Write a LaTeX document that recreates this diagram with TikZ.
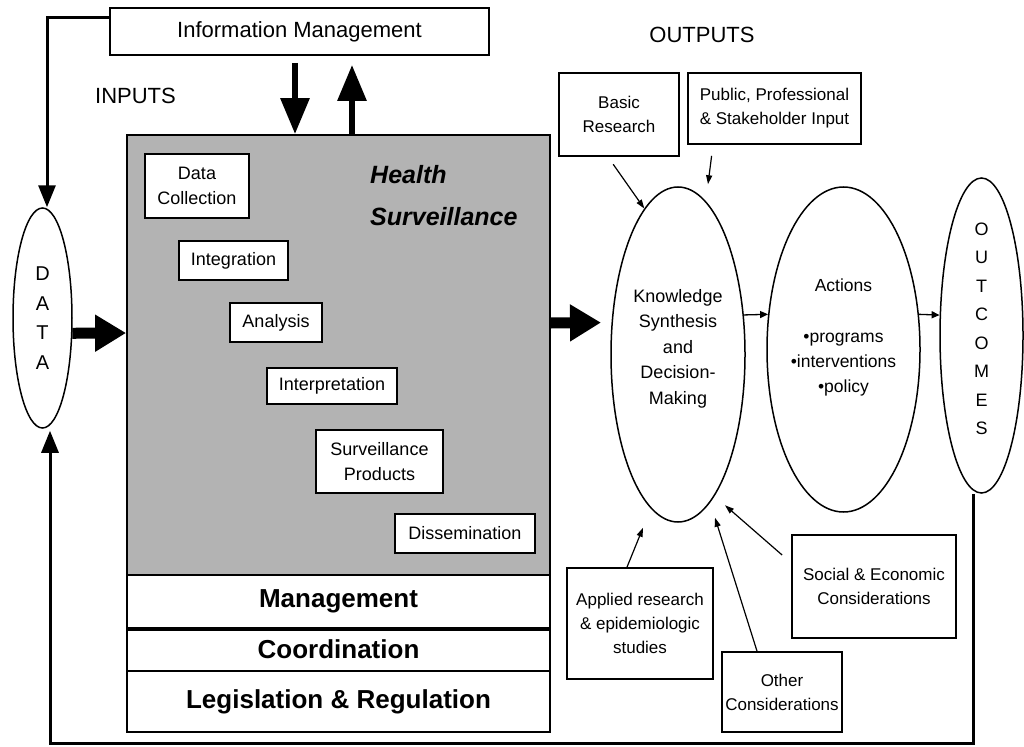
\documentclass[tikz,border=0pt]{standalone}
\usepackage{fontspec}
\setmainfont{Liberation Sans}
\usetikzlibrary{arrows.meta,shapes.geometric}
\definecolor{panelgray}{RGB}{179,179,179}
\begin{document}
\begin{tikzpicture}[x=1pt,y=-1pt,
  every node/.style={inner sep=0pt, align=center},
  pbox/.style={draw, fill=white, line width=1.8pt},
  band/.style={draw, fill=white, line width=1.8pt, minimum width=423pt,
    font=\fontsize{26}{30}\selectfont\bfseries},
  ell/.style={draw, ellipse, line width=1.5pt},
  t17/.style={font=\fontsize{17}{24}\selectfont},
  t18/.style={font=\fontsize{18}{25.5}\selectfont},
  bigarrow/.style={line width=6pt, -{Triangle[width=28pt,length=36pt]}},
  sidearrow/.style={line width=11pt, -{Triangle[width=35pt,length=31pt]}},
  smallarrow/.style={line width=1.3pt, -{Triangle[width=7pt,length=8pt]}},
  thinarrow/.style={line width=1.2pt, -{Triangle[width=6pt,length=9pt]}},
  feedback/.style={line width=3pt, -{Triangle[width=17pt,length=22pt]}}
]
\useasboundingbox (0,0) rectangle (1024,746);

% headings
\node[font=\fontsize{22}{26}\selectfont] (inputs) at (135.5,96) {INPUTS};
\node[font=\fontsize{22}{26}\selectfont] (outputs) at (702,35) {OUTPUTS};

% information management
\node[pbox, minimum width=379pt, minimum height=47pt,
  font=\fontsize{22}{26}\selectfont] (im) at (299.5,31.5) {Information Management};

% health surveillance panel and its supporting bands
\node[draw, fill=panelgray, line width=1.8pt, minimum width=423pt,
  minimum height=440pt] (hs) at (338.5,355) {};
\node[band, minimum height=53pt] (mg) at (338.5,601.5) {Management};
\node[band, minimum height=43pt] (co) at (338.5,649.5) {Coordination};
\node[band, minimum height=61pt] (lr) at (338.5,701.5) {Legislation \& Regulation};
\draw[line width=4.5pt] (mg.south west) -- (mg.south east);

\node[anchor=north west, align=left,
  font=\fontsize{25}{42}\selectfont\bfseries\itshape] (hst) at (370,165)
  {Health\\Surveillance};

% surveillance steps
\node[pbox, t18, minimum width=104pt, minimum height=64pt] (dc) at (197,186) {Data\\Collection};
\node[pbox, t18, minimum width=109pt, minimum height=39pt] (ig) at (233.5,260.5) {Integration};
\node[pbox, t18, minimum width=92pt, minimum height=39pt] (an) at (276,322.5) {Analysis};
\node[pbox, t18, minimum width=130pt, minimum height=36pt] (ip) at (332,386) {Interpretation};
\node[pbox, t18, minimum width=127pt, minimum height=63pt] (sp) at (379.5,461.5) {Surveillance\\Products};
\node[pbox, t18, minimum width=140pt, minimum height=39pt] (ds) at (465,533.5) {Dissemination};

% data
\node[ell, minimum width=59pt, minimum height=220pt,
  font=\fontsize{20}{29.5}\selectfont] (data) at (42.5,318) {D\\A\\T\\A};

% knowledge, actions, outcomes
\node[ell, minimum width=134pt, minimum height=335pt,
  label={[t18, yshift=6pt]center:{Knowledge\\Synthesis\\and\\Decision-\\Making}}]
  (kn) at (678,354.5) {};
\node[ell, minimum width=153pt, minimum height=325pt,
  label={[font=\fontsize{17.5}{25}\selectfont, yshift=12pt]center:{Actions\\[26pt]•programs\\•interventions\\•policy}}]
  (ac) at (843.5,349.5) {};
\node[ell, minimum width=83pt, minimum height=315pt,
  label={[font=\fontsize{18}{28.5}\selectfont, yshift=6.5pt]center:{O\\U\\T\\C\\O\\M\\E\\S}}]
  (oc) at (981.5,335.5) {};

% contributing inputs
\node[pbox, t17, minimum width=120pt, minimum height=83pt] (br) at (619,114.5) {Basic\\Research};
\node[pbox, t17, minimum width=173pt, minimum height=71pt] (pu) at (774.5,108.5) {Public, Professional\\\& Stakeholder Input};
\node[pbox, t17, minimum width=146pt, minimum height=111pt] (ap) at (640,623.5) {Applied research\\\& epidemiologic\\studies};
\node[pbox, t17, minimum width=120pt, minimum height=80pt] (ot) at (782,692) {Other\\Considerations};
\node[pbox, t17, minimum width=164pt, minimum height=103pt] (se) at (874,586.5) {Social \& Economic\\Considerations};

% information flow to and from information management
\draw[bigarrow, shorten <=7pt] ([xshift=-4.5pt]im.south) -- ([xshift=-43.5pt]hs.north);
\draw[bigarrow, shorten >=9pt] ([xshift=13.5pt]hs.north) -- ([xshift=52.5pt]im.south);

% main flow
\draw[sidearrow] (data.-27) -- ([yshift=22pt]hs.west);
\draw[sidearrow, shorten >=10pt] ([yshift=32pt]hs.east) -- ([xshift=-67pt,yshift=32pt]kn.center);
\draw[smallarrow] (kn.31) -- (ac.155);
\draw[smallarrow] (ac.25) -- (oc.154);

% feedback loops
\draw[feedback] ([yshift=13.5pt]im.west) -| ([xshift=4.5pt]data.north);
\draw[feedback] ([xshift=-8.5pt]oc.south) -- ++(0,250) -| ([xshift=7.5pt,yshift=-2pt]data.south);

% contributions to knowledge synthesis
\draw[thinarrow, shorten <=9pt] ([xshift=-11pt]br.south) -- (kn.103);
\draw[thinarrow, shorten <=11pt] ([xshift=-61.5pt]pu.south) -- ([xshift=30pt,yshift=2pt]kn.north);
\draw[thinarrow] ([xshift=-13pt]ap.north) -- ([xshift=-35pt,yshift=-5pt]kn.south);
\draw[thinarrow] ([xshift=-25pt]ot.north) -- ([xshift=37pt,yshift=5pt]kn.south);
\draw[thinarrow] ([xshift=-9pt,yshift=31.5pt]se.west) -- ([xshift=47pt,yshift=17.5pt]kn.south);
\end{tikzpicture}
\end{document}
